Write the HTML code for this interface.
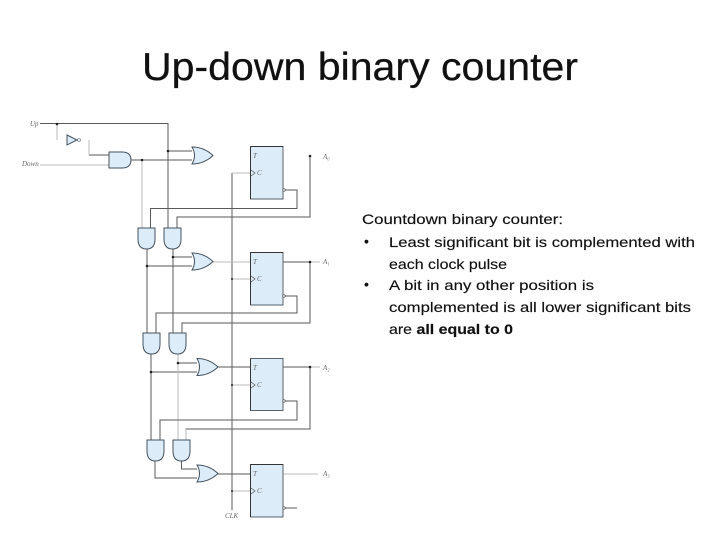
<!DOCTYPE html>
<html><head><meta charset="utf-8"><style>
html,body{margin:0;padding:0;background:#fff}
svg{display:block}
.t{font-family:"Liberation Sans",sans-serif;fill:#111}
.l{font-family:"Liberation Serif",serif;font-style:italic;font-size:7px;fill:#666}
.w{fill:none;stroke:#5a5a5a;stroke-width:1}
.p{fill:none;stroke:#bbb;stroke-width:1}
.g{fill:#dcecf9;stroke:#45535e;stroke-width:1}
.f{fill:#dcecf9;stroke:#56626c;stroke-width:1}
.d{filter:blur(.3px)}
</style></head><body>
<svg width="720" height="540" viewBox="0 0 720 540" xmlns="http://www.w3.org/2000/svg">
<defs>
<path id="or" d="M0 0 Q12 0 21 8.5 Q12 17 0 17 Q5 8.5 0 0Z"/>
<path id="and" d="M0 0 H17 V11 Q17 21 8.5 21 Q0 21 0 11Z"/>
</defs>
<rect width="720" height="540" fill="#fff"/>
<text class="t" x="142" y="80" font-size="39" textLength="436" lengthAdjust="spacingAndGlyphs" stroke="#111" stroke-width=".25">Up-down binary counter</text>

<g class="d">
<!-- wires -->
<path class="w" d="M40 123.5H168V228M168 151H192M131 160H192M89 155H109"/>
<path class="p" d="M40 165H109M57 124V140M89 140V155M142 160V228"/>
<path class="w" d="M284 190H297V208.5H150.5V228M310 156V217H177V228"/>
<path class="w" d="M232 173V510"/>
<path class="p" d="M232 173H250M232 279H250M232 385H250M232 491H250M213 262H250"/>
<path class="w" d="M147 249V333M147 266H192M173 249V333M173 257H192"/>
<path class="w" d="M283 262H310V323H182V333M284 296H297V313H156V333"/>
<path class="p" d="M310 262H320"/>
<path class="w" d="M151 354V440M151 372H197M178 363H197"/>
<path class="p" d="M178 354V440" stroke-width="2"/>
<path class="w" d="M218 367H250M283 367H310V429H186V440M284 401H297V420H160V440"/>
<path class="p" d="M186 429V440M310 367H320M283 474H318"/>
<path class="w" d="M155 461V478H197M181.5 461V469H197M218 474H250M284 508H297"/>

<!-- inverter -->
<path class="g" d="M67 135L77 140L67 145Z"/>
<circle cx="79" cy="140" r="1.5" fill="#dcecf9" stroke="#666" stroke-width=".6"/>
<!-- main AND -->
<path class="g" d="M109 152H122Q131 152 131 160Q131 168 122 168H109Z"/>

<!-- OR gates -->
<use href="#or" x="192" y="147" class="g"/>
<use href="#or" x="192" y="253" class="g"/>
<use href="#or" x="197" y="358.5" class="g"/>
<use href="#or" x="197" y="465" class="g"/>

<!-- AND gates -->
<use href="#and" x="138" y="228" class="g"/>
<use href="#and" x="164" y="228" class="g"/>
<use href="#and" x="143" y="333" class="g"/>
<use href="#and" x="169" y="333" class="g"/>
<use href="#and" x="147" y="440" class="g"/>
<use href="#and" x="173" y="440" class="g"/>

<!-- flip-flops -->
<rect class="f" x="250.5" y="146.5" width="32.5" height="52.5"/>
<rect class="f" x="250.5" y="252.5" width="32.5" height="52.5"/>
<rect class="f" x="250.5" y="358.5" width="32.5" height="52"/>
<rect class="f" x="250.5" y="464.5" width="32.5" height="52.5"/>
<path d="M250.5 146.5H283M250.5 252.5H283M250.5 464.5H283M250.5 146.5V199M250.5 252.5V305M250.5 358.5V410.5M250.5 464.5V517" fill="none" stroke="#333" stroke-width="1"/>
<path d="M251 170L255 173L251 176M251 276L255 279L251 282M251 382L255 385L251 388M251 488L255 491L251 494" fill="none" stroke="#555" stroke-width=".7"/>
<g fill="#dcecf9" stroke="#555" stroke-width=".7">
<circle cx="284" cy="190" r="1.3"/><circle cx="284" cy="296" r="1.3"/><circle cx="284" cy="401" r="1.3"/><circle cx="284" cy="508" r="1.3"/>
</g>

<!-- junction dots -->
<g fill="#222">
<circle cx="57" cy="124" r="1.3"/><circle cx="142" cy="160" r="1.3"/><circle cx="168" cy="151" r="1.3"/>
<circle cx="147" cy="266" r="1.3"/><circle cx="173" cy="257" r="1.3"/>
<circle cx="151" cy="372" r="1.3"/><circle cx="178" cy="363" r="1.3"/>
<circle cx="310" cy="156" r="1.3"/><circle cx="310" cy="262" r="1.3"/><circle cx="310" cy="367" r="1.3"/>
<circle cx="232" cy="279" r="1"/><circle cx="232" cy="385" r="1"/><circle cx="232" cy="491" r="1"/>
</g>

<!-- labels -->
<text class="l" x="30" y="126">Up</text>
<text class="l" x="22" y="166">Down</text>
<text class="l" x="225" y="518">CLK</text>
<text class="l" x="323" y="159">A₀</text>
<text class="l" x="323" y="264">A₁</text>
<text class="l" x="323" y="370">A₂</text>
<text class="l" x="323" y="476">A₃</text>
<g class="l">
<text x="253" y="158">T</text><text x="257" y="175">C</text>
<text x="253" y="264">T</text><text x="257" y="281">C</text>
<text x="253" y="370">T</text><text x="257" y="387">C</text>
<text x="253" y="476">T</text><text x="257" y="493">C</text>
</g>
</g>

<!-- text -->
<g class="t" font-size="14" stroke="#111" stroke-width=".15">
<text x="362" y="224" textLength="201" lengthAdjust="spacingAndGlyphs">Countdown binary counter:</text>
<text x="364" y="246">•</text>
<text x="389" y="247" textLength="306" lengthAdjust="spacingAndGlyphs">Least significant bit is complemented with</text>
<text x="389" y="269" textLength="118" lengthAdjust="spacingAndGlyphs">each clock pulse</text>
<text x="364" y="289">•</text>
<text x="389" y="290" textLength="205" lengthAdjust="spacingAndGlyphs">A bit in any other position is</text>
<text x="389" y="312" textLength="302" lengthAdjust="spacingAndGlyphs">complemented is all lower significant bits</text>
<text x="389" y="334" textLength="124" lengthAdjust="spacingAndGlyphs">are <tspan font-weight="bold">all equal to 0</tspan></text>
</g>
</svg>
</body></html>
